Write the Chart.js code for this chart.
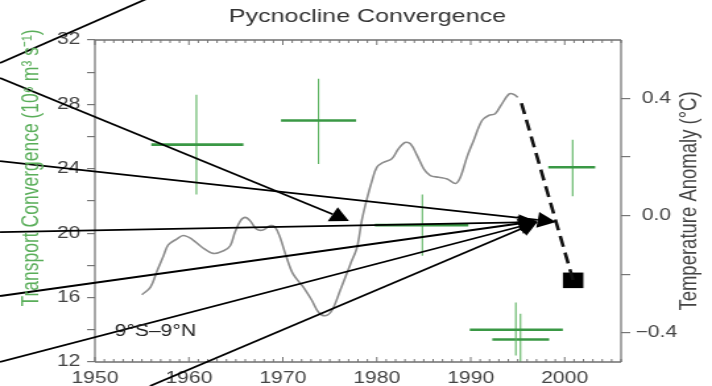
<!DOCTYPE html>
<html lang="en">
<head>
<meta charset="UTF-8">
<title>Pycnocline Convergence</title>
<script src="https://cdn.jsdelivr.net/npm/chart.js"></script>
<style>
  html, body { margin: 0; padding: 0; background: #fff; }
  /* the chart is laid out on a 540px canvas and shown 712px wide */
  #chart { display: block; width: 712px; height: 386px; }
</style>
</head>
<body>
<canvas id="chart" width="540" height="386" style="width:712px;height:386px"></canvas>
<script>
  // temperature anomaly curve (right axis, °C)
  const tempYears = [1955.0, 1955.9, 1956.6, 1957.3, 1957.8, 1958.7, 1959.4, 1960.3, 1961.4, 1962.6,
    1963.7, 1964.4, 1964.9, 1965.5, 1966.0, 1966.5, 1967.2, 1967.9, 1968.7, 1969.2,
    1969.7, 1970.4, 1971.1, 1972.2, 1973.1, 1973.8, 1974.5, 1975.2, 1976.1, 1977.2,
    1977.9, 1978.4, 1979.0, 1979.5, 1980.0, 1980.7, 1981.6, 1982.3, 1983.0, 1983.6,
    1984.3, 1985.0, 1985.7, 1986.6, 1987.5, 1988.4, 1988.9, 1989.6, 1990.3, 1991.2,
    1991.9, 1992.6, 1993.2, 1994.1, 1994.6, 1995.0];
  const tempValues = [-0.27, -0.245, -0.19, -0.137, -0.10, -0.08, -0.068, -0.08, -0.108, -0.129,
    -0.12, -0.103, -0.057, -0.017, -0.006, -0.017, -0.046, -0.049, -0.034, -0.04,
    -0.074, -0.143, -0.2, -0.245, -0.29, -0.33, -0.342, -0.325, -0.256, -0.165,
    -0.108, -0.017, 0.063, 0.12, 0.165, 0.182, 0.194, 0.228, 0.25, 0.245,
    0.205, 0.16, 0.137, 0.131, 0.125, 0.11, 0.131, 0.2, 0.256, 0.325,
    0.342, 0.348, 0.376, 0.416, 0.414, 0.404];

  // dashed drop to the recent value and its marker
  const dashYears = [1995.4, 2000.9];
  const dashValues = [0.384, -0.221];
  const markerYears = [2000.9];
  const markerValues = [-0.221];

  // transport convergence estimates (left axis) with their ranges
  const crossYears    = [1960.8, 1973.8, 1984.85, 2000.85, 1994.8, 1995.3];
  const crossYearLo   = [1956.0, 1969.8, 1979.8, 1998.25, 1989.9, 1992.3];
  const crossYearHi   = [1965.8, 1977.8, 1989.75, 2003.25, 1999.8, 1998.35];
  const crossValues   = [25.5, 27.0, 20.5, 24.1, 14.0, 13.4];
  const crossValueLo  = [22.4, 24.3, 18.6, 22.3, 12.4, 12.0];
  const crossValueHi  = [28.6, 29.6, 22.4, 25.8, 15.7, 15.0];

  // axis ticks
  const yearTicks = [1950, 1960, 1970, 1980, 1990, 2000];
  const transportTicks = [12, 14, 16, 18, 20, 22, 24, 26, 28, 30, 32];
  const transportLabels = [12, 16, 20, 24, 28, 32];
  const tempTicks = [-0.4, -0.2, 0, 0.2, 0.4];
  const tempLabels = [-0.4, 0, 0.4];

  // arrows laid over the plot, in year / transport units
  const arrowFromYear  = [1939.9, 1939.9, 1939.9, 1939.9, 1939.9, 1939.9, 1955.86];
  const arrowFromValue = [30.57, 29.64, 24.48, 20.07, 16.10, 12.0, 10.51];
  const arrowToYear    = [1960.1, 1977.04, 1999.08, 1997.1, 1997.1, 1997.1, 1997.1];
  const arrowToValue   = [35.73, 20.76, 20.70, 20.70, 20.76, 20.70, 20.70];

  const near = (list, v) => list.some(t => Math.abs(t - v) < 1e-9);
  const fmtTemp = v => (Math.abs(v) < 1e-9 ? 0 : v).toFixed(1).replace('-', '\u2212');

  Chart.defaults.font.family = "'Liberation Sans', Arial, sans-serif";
  Chart.defaults.color = '#444';

  const datasets = [];
  crossYears.forEach((yr, i) => {
    datasets.push({
      data: [{x: crossYearLo[i], y: crossValues[i]}, {x: crossYearHi[i], y: crossValues[i]}],
      yAxisID: 'y', borderColor: '#3a9845', borderWidth: 2.6, pointRadius: 0
    });
    datasets.push({
      data: [{x: yr, y: crossValueLo[i]}, {x: yr, y: crossValueHi[i]}],
      yAxisID: 'y', borderColor: '#5cb360', borderWidth: 1.1, pointRadius: 0
    });
  });
  datasets.push({
    data: tempYears.map((x, i) => ({x, y: tempValues[i]})),
    yAxisID: 'y2', borderColor: '#8c8c8c', borderWidth: 1.6, pointRadius: 0, tension: 0.35
  });
  datasets.push({
    data: dashYears.map((x, i) => ({x, y: dashValues[i]})),
    yAxisID: 'y2', borderColor: '#111', borderWidth: 2.6, borderDash: [11, 6], pointRadius: 0
  });
  datasets.push({
    data: markerYears.map((x, i) => ({x, y: markerValues[i]})),
    yAxisID: 'y2', showLine: false, pointStyle: 'rect', pointRadius: 11,
    pointBackgroundColor: '#000', pointBorderWidth: 0
  });

  // frame, inner year ticks, arrows and text
  const decorations = {
    id: 'decorations',
    afterDraw(chart) {
      const {ctx, chartArea: a, scales} = chart;
      const xs = scales.x, ys = scales.y;
      ctx.save();

      // inner year ticks on top and bottom edges
      ctx.strokeStyle = '#777';
      ctx.lineWidth = 1;
      for (let yr = 1950; yr <= 2006; yr++) {
        const px = xs.getPixelForValue(yr);
        const len = yr % 10 === 0 ? 5 : 3;
        ctx.beginPath();
        ctx.moveTo(px, a.bottom); ctx.lineTo(px, a.bottom - len);
        ctx.moveTo(px, a.top); ctx.lineTo(px, a.top + len);
        ctx.stroke();
      }

      // frame
      ctx.strokeStyle = '#6f6f6f';
      ctx.lineWidth = 1.4;
      ctx.beginPath();
      ctx.moveTo(a.left, a.top); ctx.lineTo(a.right, a.top);
      ctx.moveTo(a.left, a.bottom); ctx.lineTo(a.right, a.bottom);
      ctx.stroke();
      ctx.lineWidth = 1.2;
      ctx.beginPath();
      ctx.moveTo(a.left, a.top); ctx.lineTo(a.left, a.bottom);
      ctx.moveTo(a.right, a.top); ctx.lineTo(a.right, a.bottom);
      ctx.stroke();

      // arrows
      ctx.strokeStyle = '#000';
      ctx.fillStyle = '#000';
      ctx.lineWidth = 1.8;
      const L = 14, W = 8;
      arrowFromYear.forEach((_, i) => {
        const x0 = xs.getPixelForValue(arrowFromYear[i]);
        const y0 = ys.getPixelForValue(arrowFromValue[i]);
        const x1 = xs.getPixelForValue(arrowToYear[i]);
        const y1 = ys.getPixelForValue(arrowToValue[i]);
        const ang = Math.atan2(y1 - y0, x1 - x0);
        const c = Math.cos(ang), s = Math.sin(ang);
        const bx = x1 - L * c, by = y1 - L * s;
        ctx.beginPath();
        ctx.moveTo(x0, y0); ctx.lineTo(bx, by);
        ctx.stroke();
        ctx.beginPath();
        ctx.moveTo(x1, y1);
        ctx.lineTo(bx + W * s, by - W * c);
        ctx.lineTo(bx - W * s, by + W * c);
        ctx.closePath();
        ctx.fill();
      });

      // title
      ctx.fillStyle = '#333';
      ctx.textAlign = 'center';
      ctx.textBaseline = 'middle';
      ctx.font = "19px 'Liberation Sans', Arial, sans-serif";
      ctx.fillText('Pycnocline Convergence', 278.7, 17);

      // region label
      ctx.textAlign = 'left';
      ctx.fillStyle = '#222';
      ctx.font = "16px 'Liberation Sans', Arial, sans-serif";
      ctx.fillText('9°S\u20139°N', a.left + 15, a.bottom - 30);

      // axis titles
      ctx.textAlign = 'center';
      ctx.save();
      ctx.translate(24.3, 168);
      ctx.rotate(-Math.PI / 2);
      ctx.fillStyle = '#5aae5a';
      ctx.font = "17.5px 'Liberation Sans', Arial, sans-serif";
      ctx.fillText('Transport Convergence (10\u2076 m\u00b3 s\u207b\u00b9)', 0, 0);
      ctx.restore();

      ctx.save();
      ctx.translate(523.3, 201);
      ctx.rotate(-Math.PI / 2);
      ctx.fillStyle = '#444';
      ctx.font = "18.5px 'Liberation Sans', Arial, sans-serif";
      ctx.fillText('Temperature Anomaly (°C)', 0, 0);
      ctx.restore();

      ctx.restore();
    }
  };

  new Chart(document.getElementById('chart'), {
    type: 'line',
    data: { datasets },
    options: {
      responsive: false,
      animation: false,
      devicePixelRatio: 1,
      layout: { padding: { top: 40, left: 0, right: 0, bottom: 0 } },
      plugins: { legend: { display: false }, tooltip: { enabled: false } },
      scales: {
        x: {
          type: 'linear', position: 'bottom', min: 1950, max: 2006,
          afterBuildTicks: s => { s.ticks = yearTicks.map(v => ({value: v})); },
          ticks: { autoSkip: false, maxRotation: 0, padding: -1, font: { size: 16 }, color: '#444',
                   callback: v => String(v) },
          grid: { display: false },
          border: { display: false },
          afterFit: s => { s.height = 24; }
        },
        y: {
          type: 'linear', position: 'left', min: 12, max: 32,
          afterBuildTicks: s => { s.ticks = transportTicks.map(v => ({value: v})); },
          ticks: { autoSkip: false, padding: 5, font: { size: 16 }, color: '#444',
                   callback: v => near(transportLabels, v) ? String(v) : '' },
          grid: { drawOnChartArea: false, drawTicks: true, tickLength: 6, color: '#777', lineWidth: 1.2 },
          border: { display: false },
          afterFit: s => { s.width = 72; }
        },
        y2: {
          type: 'linear', position: 'right', min: -0.5, max: 0.6,
          afterBuildTicks: s => { s.ticks = tempTicks.map(v => ({value: v})); },
          ticks: { autoSkip: false, padding: 4, crossAlign: 'center', font: { size: 16 }, color: '#444',
                   callback: v => near(tempLabels, v) ? fmtTemp(v) : '' },
          grid: { drawOnChartArea: false, drawTicks: true, tickLength: 7, color: '#777', lineWidth: 1.2 },
          border: { display: false },
          afterFit: s => { s.width = 69; }
        }
      }
    },
    plugins: [decorations]
  });
</script>
</body>
</html>
